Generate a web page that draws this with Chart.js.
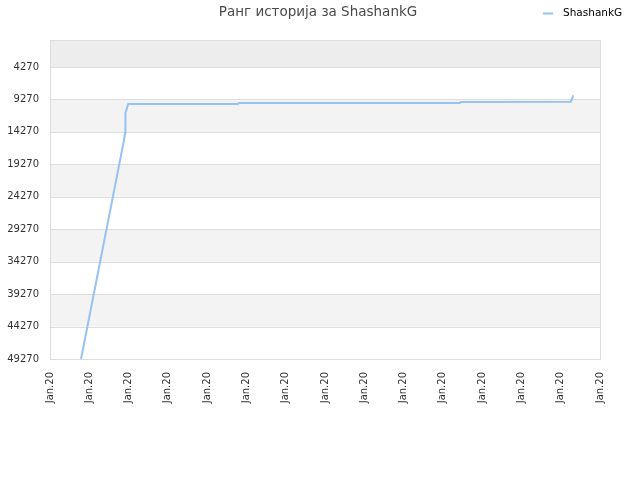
<!DOCTYPE html>
<html>
<head>
<meta charset="utf-8">
<script src="https://cdn.jsdelivr.net/npm/chart.js@4/dist/chart.umd.min.js"></script>
<style>
  html, body { margin: 0; padding: 0; background: #fff; }
  #wrap { width: 640px; height: 480px; }
</style>
</head>
<body>
<div id="wrap"><canvas id="rankChart" width="640" height="480"></canvas></div>
<script>
var playerName = 'ShashankG';
var chartTitle = 'Ранг историја за ShashankG';
var tickLabels = ['Jan.20', 'Jan.20', 'Jan.20', 'Jan.20', 'Jan.20', 'Jan.20', 'Jan.20', 'Jan.20',
                  'Jan.20', 'Jan.20', 'Jan.20', 'Jan.20', 'Jan.20', 'Jan.20', 'Jan.20'];
var rankTicks = [4270, 9270, 14270, 19270, 24270, 29270, 34270, 39270, 44270, 49270];
var dayIndex = [0.79, 1.88, 1.91, 1.92, 1.96, 1.99, 4.78, 4.81, 10.43, 10.46, 13.26, 13.32];
var rankValues = [49270, 15650, 14420, 11350, 10580, 9960, 9960, 9810, 9810, 9650, 9610, 8650];

document.addEventListener('DOMContentLoaded', function() {
  var ctx = document.getElementById('rankChart').getContext('2d');

  var points = dayIndex.map(function(d, i) { return { x: d, y: rankValues[i] }; });

  // alternating bands, plot border, title and legend
  var decor = {
    id: 'decor',
    beforeDatasetsDraw: function(chart) {
      var c = chart.ctx, a = chart.chartArea, y = chart.scales.y;
      c.save();
      var edges = [y.min].concat(rankTicks);
      for (var i = 0; i < edges.length - 1; i++) {
        if (i % 2 === 0) {
          var t = y.getPixelForValue(edges[i]), b = y.getPixelForValue(edges[i + 1]);
          c.fillStyle = i === 0 ? '#ededed' : '#f3f3f3';
          c.fillRect(a.left, t, a.right - a.left, b - t);
        }
      }
      c.strokeStyle = '#dddddd';
      c.lineWidth = 1;
      rankTicks.forEach(function(v) {
        var p = Math.round(y.getPixelForValue(v)) + 0.5;
        c.beginPath(); c.moveTo(a.left, p); c.lineTo(a.right, p); c.stroke();
      });
      c.strokeRect(Math.round(a.left) + 0.5, Math.round(a.top) + 0.5,
                   Math.round(a.right - a.left), Math.round(a.bottom - a.top));
      c.restore();
    },
    afterDraw: function(chart) {
      var c = chart.ctx;
      c.save();
      c.font = '13.5px "DejaVu Sans"';
      c.fillStyle = '#4a4a4a';
      c.textAlign = 'center';
      c.textBaseline = 'middle';
      c.fillText(chartTitle, 318, 12);
      c.strokeStyle = '#95c2f2';
      c.lineWidth = 2;
      c.beginPath(); c.moveTo(543, 13.5); c.lineTo(553, 13.5); c.stroke();
      c.font = '10.5px "DejaVu Sans"';
      c.fillStyle = '#000000';
      c.textAlign = 'left';
      c.fillText(playerName, 563, 13);
      c.restore();
    }
  };

  new Chart(ctx, {
    type: 'line',
    data: {
      datasets: [{
        label: playerName,
        data: points,
        borderColor: '#95c2f2',
        borderWidth: 2,
        pointRadius: 0,
        fill: false,
        tension: 0
      }]
    },
    options: {
      responsive: false,
      animation: false,
      layout: { padding: { top: 40, right: 40, left: 0, bottom: 0 } },
      plugins: {
        legend: { display: false },
        title: { display: false },
        tooltip: { enabled: false }
      },
      scales: {
        x: {
          type: 'linear',
          min: 0,
          max: tickLabels.length - 1,
          grid: { display: false },
          border: { display: false },
          afterBuildTicks: function(scale) {
            scale.ticks = tickLabels.map(function(l, i) { return { value: i }; });
          },
          afterFit: function(scale) { scale.height = 121; },
          ticks: {
            autoSkip: false,
            minRotation: 90,
            maxRotation: 90,
            padding: 5,
            color: '#333333',
            font: { family: 'DejaVu Sans', size: 10 },
            callback: function(v, i) { return tickLabels[i]; }
          }
        },
        y: {
          reverse: true,
          min: 110,
          max: 49270,
          grid: { display: false },
          border: { display: false },
          afterBuildTicks: function(scale) {
            scale.ticks = rankTicks.map(function(v) { return { value: v }; });
          },
          afterFit: function(scale) { scale.width = 50; },
          ticks: {
            padding: 3,
            color: '#333333',
            font: { family: 'DejaVu Sans', size: 10 },
            callback: function(v) { return String(v); }
          }
        }
      }
    },
    plugins: [decor]
  });
});
</script>
</body>
</html>
